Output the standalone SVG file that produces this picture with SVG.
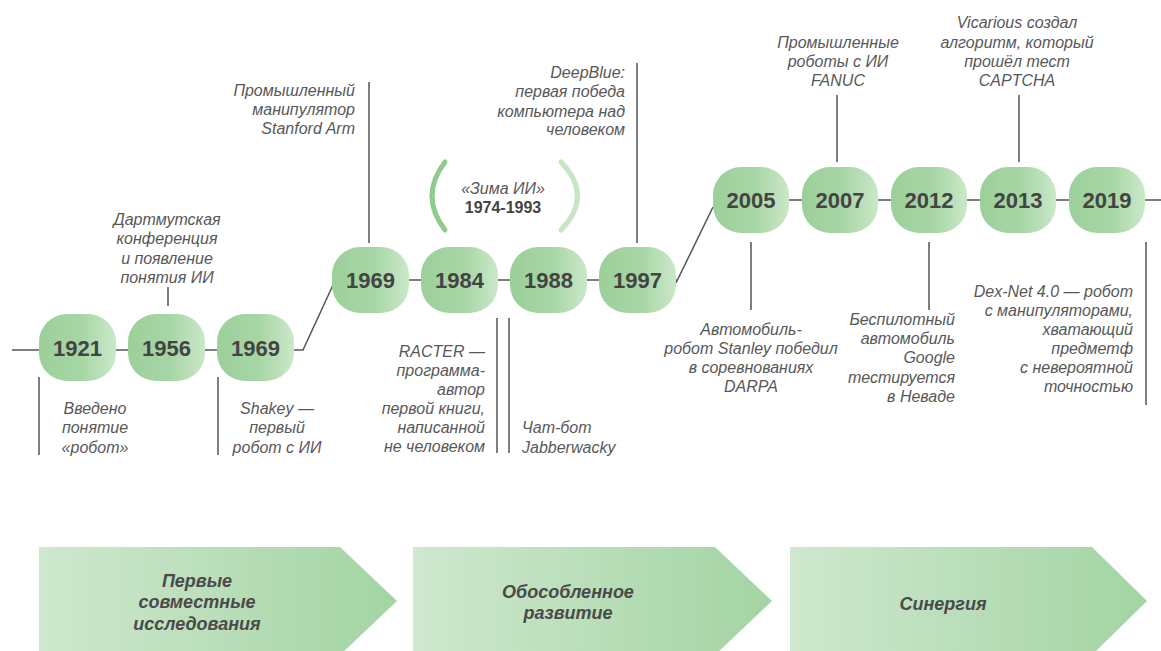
<svg xmlns="http://www.w3.org/2000/svg" width="1161" height="651" viewBox="0 0 1161 651">
<defs>
<linearGradient id="gNode" x1="0" y1="0" x2="1" y2="0">
<stop offset="0" stop-color="#9ccf9a"/>
<stop offset="0.55" stop-color="#a7d6a5"/>
<stop offset="1" stop-color="#cbe8c9"/>
</linearGradient>
<linearGradient id="gArrow" x1="0" y1="0" x2="1" y2="0">
<stop offset="0" stop-color="#cfe8cf"/>
<stop offset="1" stop-color="#a3d4a3"/>
</linearGradient>
<style>
.line{fill:none;stroke:#555;stroke-width:1.5}
.node{fill:url(#gNode)}
.year{font-family:"Liberation Sans",Arial,sans-serif;font-weight:bold;font-size:22px;fill:#444;text-anchor:middle}
.cap{font-family:"Liberation Sans",Arial,sans-serif;font-style:italic;font-size:16px;fill:#585858}
.mid{text-anchor:middle}
.end{text-anchor:end}
.start{text-anchor:start}
.arrow{fill:url(#gArrow)}
.phase{font-family:"Liberation Sans",Arial,sans-serif;font-style:italic;font-weight:bold;font-size:18px;fill:#4a4a4a;text-anchor:middle}
</style>
</defs>
<rect width="1161" height="651" fill="#ffffff"/>

<g id="connectors">
<polyline class="line" points="12,350 303,350 333,285"/>
<polyline class="line" points="332,280 677,280"/>
<polyline class="line" points="676,283 713,207"/>
<polyline class="line" points="713,200 1161,200"/>
<line class="line" x1="39" y1="377" x2="39" y2="455"/>
<line class="line" x1="168" y1="287" x2="168" y2="306"/>
<line class="line" x1="218" y1="377" x2="218" y2="455"/>
<line class="line" x1="369" y1="82" x2="369" y2="243"/>
<line class="line" x1="637" y1="63" x2="637" y2="243"/>
<line class="line" x1="497" y1="318" x2="497" y2="453"/>
<line class="line" x1="509" y1="318" x2="509" y2="453"/>
<line class="line" x1="751" y1="242" x2="751" y2="310"/>
<line class="line" x1="837" y1="95" x2="837" y2="162"/>
<line class="line" x1="929" y1="242" x2="929" y2="310"/>
<line class="line" x1="1019" y1="95" x2="1019" y2="162"/>
<line class="line" x1="1146" y1="242" x2="1146" y2="405"/>
</g>

<g id="n1921"><rect class="node" x="39" y="314" width="77" height="67" rx="28"/><text class="year" x="77.5" y="356">1921</text></g>
<g id="n1956"><rect class="node" x="128" y="314" width="77" height="67" rx="28"/><text class="year" x="166.5" y="356">1956</text></g>
<g id="n1969a"><rect class="node" x="217" y="314" width="77" height="67" rx="28"/><text class="year" x="255.5" y="356">1969</text></g>

<g id="n1969b"><rect class="node" x="332" y="247" width="77" height="66" rx="28"/><text class="year" x="370.5" y="288">1969</text></g>
<g id="n1984"><rect class="node" x="421" y="247" width="77" height="66" rx="28"/><text class="year" x="459.5" y="288">1984</text></g>
<g id="n1988"><rect class="node" x="510" y="247" width="77" height="66" rx="28"/><text class="year" x="548.5" y="288">1988</text></g>
<g id="n1997"><rect class="node" x="599" y="247" width="77" height="66" rx="28"/><text class="year" x="637.5" y="288">1997</text></g>

<g id="n2005"><rect class="node" x="713" y="167" width="76" height="66" rx="28"/><text class="year" x="751" y="208">2005</text></g>
<g id="n2007"><rect class="node" x="802" y="167" width="76" height="66" rx="28"/><text class="year" x="840" y="208">2007</text></g>
<g id="n2012"><rect class="node" x="891" y="167" width="76" height="66" rx="28"/><text class="year" x="929" y="208">2012</text></g>
<g id="n2013"><rect class="node" x="980" y="167" width="76" height="66" rx="28"/><text class="year" x="1018" y="208">2013</text></g>
<g id="n2019"><rect class="node" x="1069" y="167" width="76" height="66" rx="28"/><text class="year" x="1107" y="208">2019</text></g>

<g id="t1921"><text class="cap mid" x="95"><tspan x="95" y="414">Введено</tspan><tspan x="95" y="433">понятие</tspan><tspan x="95" y="453">«робот»</tspan></text></g>
<g id="t1956"><text class="cap mid"><tspan x="167" y="225">Дартмутская</tspan><tspan x="167" y="244">конференция</tspan><tspan x="167" y="264">и появление</tspan><tspan x="167" y="283">понятия ИИ</tspan></text></g>
<g id="t1969a"><text class="cap mid"><tspan x="277" y="414">Shakey —</tspan><tspan x="277" y="433">первый</tspan><tspan x="277" y="453">робот с ИИ</tspan></text></g>
<g id="t1969b"><text class="cap end"><tspan x="355" y="96">Промышленный</tspan><tspan x="355" y="115">манипулятор</tspan><tspan x="355" y="134">Stanford Arm</tspan></text></g>
<g id="t1997"><text class="cap end"><tspan x="625" y="78">DeepBlue:</tspan><tspan x="625" y="97">первая победа</tspan><tspan x="625" y="117">компьютера над</tspan><tspan x="625" y="135">человеком</tspan></text></g>
<g id="winter">
<path d="M445,162 Q419,196 445,230" fill="none" stroke="#8ecb8c" stroke-width="5" stroke-linecap="round"/>
<path d="M561,162 Q594,196 561,230" fill="none" stroke="#c8e6c6" stroke-width="5" stroke-linecap="round"/>
<text class="cap mid" x="503" y="194">«Зима ИИ»</text>
<text class="mid" x="503" y="213" font-family="Liberation Sans, Arial, sans-serif" font-weight="bold" font-size="16" fill="#444">1974-1993</text>
</g>
<g id="t1984"><text class="cap end"><tspan x="485" y="357">RACTER —</tspan><tspan x="485" y="376">программа-</tspan><tspan x="485" y="395">автор</tspan><tspan x="485" y="414">первой книги,</tspan><tspan x="485" y="433">написанной</tspan><tspan x="485" y="452">не человеком</tspan></text></g>
<g id="t1988"><text class="cap start"><tspan x="522" y="433">Чат-бот</tspan><tspan x="522" y="453">Jabberwacky</tspan></text></g>
<g id="t2005"><text class="cap mid"><tspan x="751" y="335">Автомобиль-</tspan><tspan x="751" y="354">робот Stanley победил</tspan><tspan x="751" y="373">в соревнованиях</tspan><tspan x="751" y="392">DARPA</tspan></text></g>
<g id="t2007"><text class="cap mid"><tspan x="838" y="48">Промышленные</tspan><tspan x="838" y="67">роботы с ИИ</tspan><tspan x="838" y="86">FANUC</tspan></text></g>
<g id="t2012"><text class="cap end"><tspan x="955" y="325">Беспилотный</tspan><tspan x="955" y="344">автомобиль</tspan><tspan x="955" y="363">Google</tspan><tspan x="955" y="383">тестируется</tspan><tspan x="955" y="402">в Неваде</tspan></text></g>
<g id="t2013"><text class="cap mid"><tspan x="1017" y="28">Vicarious создал</tspan><tspan x="1017" y="48">алгоритм, который</tspan><tspan x="1017" y="67">прошёл тест</tspan><tspan x="1017" y="86">CAPTCHA</tspan></text></g>
<g id="t2019"><text class="cap end"><tspan x="1133" y="297">Dex-Net 4.0 — робот</tspan><tspan x="1133" y="316">с манипуляторами,</tspan><tspan x="1133" y="335">хватающий</tspan><tspan x="1133" y="354">предметф</tspan><tspan x="1133" y="373">с невероятной</tspan><tspan x="1133" y="392">точностью</tspan></text></g>

<g id="phase1"><polygon class="arrow" points="39,547 340,547 397,601 340,655 39,655"/><text class="phase"><tspan x="197" y="587">Первые</tspan><tspan x="197" y="608">совместные</tspan><tspan x="197" y="630">исследования</tspan></text></g>
<g id="phase2"><polygon class="arrow" points="413,547 715,547 772,601 715,655 413,655"/><text class="phase"><tspan x="568" y="598">Обособленное</tspan><tspan x="568" y="619">развитие</tspan></text></g>
<g id="phase3"><polygon class="arrow" points="790,547 1092,547 1147,601 1092,655 790,655"/><text class="phase" x="943" y="610">Синергия</text></g>
</svg>
